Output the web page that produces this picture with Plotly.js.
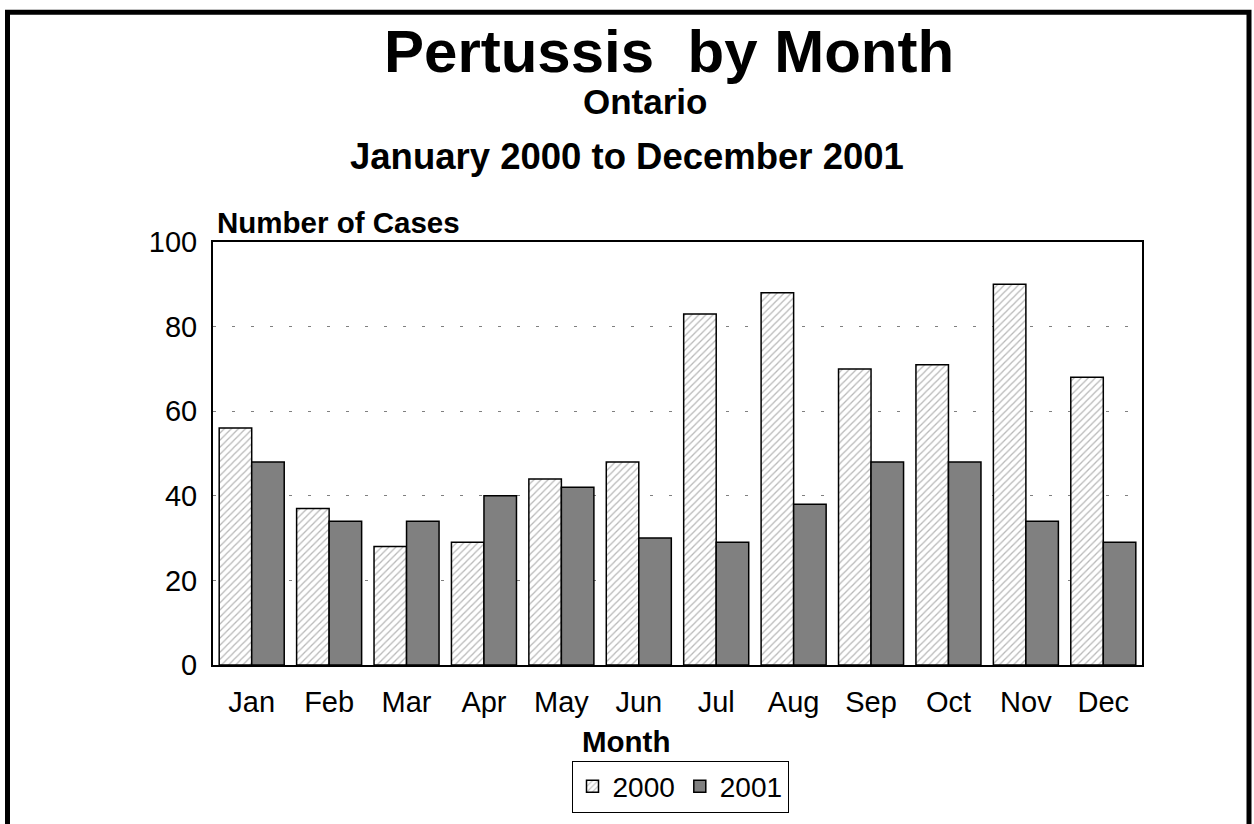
<!DOCTYPE html>
<html>
<head>
<meta charset="utf-8">
<script src="https://cdn.plot.ly/plotly-3.0.1.min.js"></script>
<style>
html,body{margin:0;padding:0;background:#fff;}
#chart{width:1254px;height:824px;}
</style>
</head>
<body>
<div id="chart"></div>
<script>
const months = ["Jan","Feb","Mar","Apr","May","Jun","Jul","Aug","Sep","Oct","Nov","Dec"];
const cases2000 = [56,37,28,29,44,48,83,88,70,71,90,68];
const cases2001 = [48,34,34,40,42,30,29,38,48,48,34,29];
const yTicks = [0,20,40,60,80,100];

const FONT = "Liberation Sans, Arial, sans-serif";

const traces = [
  {
    type: "bar", name: "2000", x: months, y: cases2000,
    marker: {
      color: "#ffffff",
      pattern: {shape: "/", fgcolor: "#b8b8b8", bgcolor: "#ffffff", size: 5, solidity: 0.25},
      line: {color: "#000", width: 1.5}
    }
  },
  {
    type: "bar", name: "2001", x: months, y: cases2001,
    marker: {color: "#808080", line: {color: "#000", width: 1.5}}
  }
];

function py(p){ return (670 - p) / 428; }
function px(p){ return (p - 213) / 929; }

const layout = {
  width: 1254, height: 824,
  margin: {l: 213, r: 112, t: 242, b: 154, pad: 0},
  paper_bgcolor: "#fff", plot_bgcolor: "#fff",
  font: {family: FONT, color: "#000", size: 29},
  barmode: "group", bargap: 0.16, bargroupgap: 0,
  showlegend: true,
  legend: {
    orientation: "h", x: px(680), y: py(793), xanchor: "center", yanchor: "middle",
    bordercolor: "#000", borderwidth: 1, font: {family: FONT, size: 28},
    traceorder: "normal", itemwidth: 30
  },
  xaxis: {
    type: "category", categoryarray: months,
    showline: true, linecolor: "#000", linewidth: 2, mirror: true,
    ticks: "", showgrid: false, tickfont: {size: 29}, ticklabelstandoff: 10,
    fixedrange: true
  },
  yaxis: {
    range: [0, 100], tickvals: yTicks, ticktext: yTicks.map(String),
    showline: true, linecolor: "#000", linewidth: 2, mirror: true,
    ticks: "", showgrid: true, gridcolor: "#808080", gridwidth: 1, griddash: "3px,16px",
    zeroline: false, tickfont: {size: 29}, ticklabelstandoff: 8,
    fixedrange: true
  },
  annotations: [
    {text: "<b>Pertussis\u00a0\u00a0by Month</b>", xref: "paper", yref: "paper", x: px(669), y: py(49), xanchor: "center", yanchor: "middle", showarrow: false, font: {size: 60}},
    {text: "<b>Ontario</b>", xref: "paper", yref: "paper", x: px(645), y: py(100), xanchor: "center", yanchor: "middle", showarrow: false, font: {size: 35}},
    {text: "<b>January 2000 to December 2001</b>", xref: "paper", yref: "paper", x: px(627), y: py(155), xanchor: "center", yanchor: "middle", showarrow: false, font: {size: 36.5}},
    {text: "<b>Number of Cases</b>", xref: "paper", yref: "paper", x: px(215), y: py(222), xanchor: "left", yanchor: "middle", showarrow: false, font: {size: 29.5}},
    {text: "<b>Month</b>", xref: "paper", yref: "paper", x: px(626), y: py(747), xanchor: "center", yanchor: "middle", showarrow: false, font: {size: 29.5}}
  ],
  shapes: [
    {type: "path", xref: "paper", yref: "paper",
     path: "M " + px(7.5) + " " + py(900) + " L " + px(7.5) + " " + py(9.5) + " L " + px(1249) + " " + py(9.5) + " L " + px(1249) + " " + py(900),
     line: {color: "#000", width: 5}, layer: "above"}
  ]
};

Plotly.newPlot("chart", traces, layout, {displayModeBar: false, staticPlot: true});
</script>
</body>
</html>
